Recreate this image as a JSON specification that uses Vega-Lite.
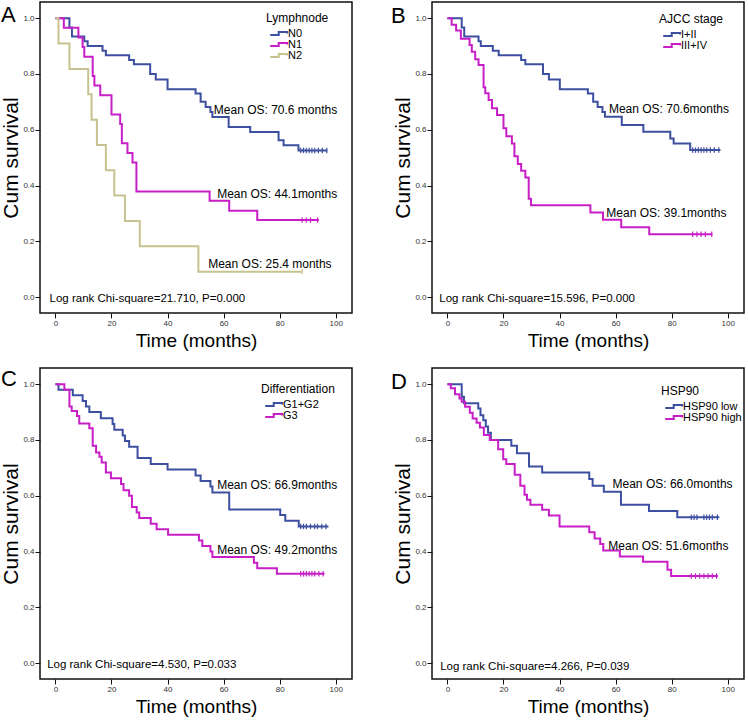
{
  "$schema": "https://vega.github.io/schema/vega-lite/v6.json",
  "autosize": {"type": "pad"},
  "padding": {"left": 0, "top": 1, "right": 0, "bottom": 0},
  "background": "white",
  "bounds": "flush",
  "columns": 2,
  "spacing": {"row": 55, "column": 80},
  "resolve": {"scale": {"color": "independent"}, "legend": {"color": "independent"}},
  "datasets": {
    "A": [
      {"g":"N0","t":0,"s":1},{"g":"N0","t":5.0,"s":0.967},{"g":"N0","t":5.9,"s":0.934},{"g":"N0","t":10.3,"s":0.917},{"g":"N0","t":11.5,"s":0.9},{"g":"N0","t":16.8,"s":0.883},{"g":"N0","t":18,"s":0.867},{"g":"N0","t":26.3,"s":0.85},{"g":"N0","t":28,"s":0.835},{"g":"N0","t":33.8,"s":0.8},{"g":"N0","t":35.8,"s":0.78},{"g":"N0","t":40,"s":0.745},{"g":"N0","t":50,"s":0.73},{"g":"N0","t":51.8,"s":0.7},{"g":"N0","t":53.6,"s":0.682},{"g":"N0","t":55.3,"s":0.664},{"g":"N0","t":56,"s":0.646},{"g":"N0","t":61.8,"s":0.61},{"g":"N0","t":69.5,"s":0.592},{"g":"N0","t":79.6,"s":0.562},{"g":"N0","t":81.4,"s":0.544},{"g":"N0","t":86.7,"s":0.526},{"g":"N0","t":97,"s":0.526},
      {"g":"N1","t":0,"s":1},{"g":"N1","t":3.0,"s":0.966},{"g":"N1","t":8.2,"s":0.931},{"g":"N1","t":9.7,"s":0.897},{"g":"N1","t":10.3,"s":0.862},{"g":"N1","t":13.3,"s":0.793},{"g":"N1","t":13.9,"s":0.759},{"g":"N1","t":16.0,"s":0.724},{"g":"N1","t":20.0,"s":0.655},{"g":"N1","t":23.1,"s":0.621},{"g":"N1","t":23.7,"s":0.552},{"g":"N1","t":25.7,"s":0.517},{"g":"N1","t":27.5,"s":0.483},{"g":"N1","t":28.9,"s":0.379},{"g":"N1","t":55,"s":0.345},{"g":"N1","t":62,"s":0.31},{"g":"N1","t":72,"s":0.276},{"g":"N1","t":94,"s":0.276},
      {"g":"N2","t":0,"s":1},{"g":"N2","t":1.1,"s":0.909},{"g":"N2","t":5.0,"s":0.818},{"g":"N2","t":11.7,"s":0.727},{"g":"N2","t":12.9,"s":0.636},{"g":"N2","t":14.8,"s":0.545},{"g":"N2","t":18.0,"s":0.455},{"g":"N2","t":21.0,"s":0.364},{"g":"N2","t":24.8,"s":0.273},{"g":"N2","t":30.1,"s":0.182},{"g":"N2","t":51.0,"s":0.091},{"g":"N2","t":88,"s":0.091}
    ],
    "Ac": [
      {"g":"N0","t":87.5,"s":0.526},{"g":"N0","t":88.5,"s":0.526},{"g":"N0","t":89.5,"s":0.526},{"g":"N0","t":90.5,"s":0.526},{"g":"N0","t":91.5,"s":0.526},{"g":"N0","t":92.5,"s":0.526},{"g":"N0","t":93.8,"s":0.526},{"g":"N0","t":95.2,"s":0.526},{"g":"N0","t":96.8,"s":0.526},
      {"g":"N1","t":88,"s":0.276},{"g":"N1","t":89.5,"s":0.276},{"g":"N1","t":91,"s":0.276},{"g":"N1","t":93.5,"s":0.276},
      {"g":"N2","t":88,"s":0.091}
    ],
    "An": [
      {"k":"os","txt":"Mean OS: 70.6 months","t":56.5,"s":0.672},
      {"k":"os","txt":"Mean OS: 44.1months","t":57.7,"s":0.37},
      {"k":"os","txt":"Mean OS: 25.4 months","t":54.5,"s":0.118},
      {"k":"lr","txt":"Log rank Chi-square=21.710, P=0.000","t":-2.1,"s":-0.006},
      {"k":"lt","txt":"A","t":-19.4,"s":0.986}
    ],
    "B": [
      {"g":"I+II","t":0,"s":1},{"g":"I+II","t":5.1,"s":0.967},{"g":"I+II","t":6.0,"s":0.934},{"g":"I+II","t":11.1,"s":0.917},{"g":"I+II","t":11.9,"s":0.9},{"g":"I+II","t":16.2,"s":0.883},{"g":"I+II","t":18.3,"s":0.867},{"g":"I+II","t":26.3,"s":0.85},{"g":"I+II","t":27.8,"s":0.835},{"g":"I+II","t":34.1,"s":0.8},{"g":"I+II","t":36.2,"s":0.78},{"g":"I+II","t":40.1,"s":0.745},{"g":"I+II","t":50.1,"s":0.73},{"g":"I+II","t":52,"s":0.7},{"g":"I+II","t":53.6,"s":0.682},{"g":"I+II","t":55.3,"s":0.664},{"g":"I+II","t":56.2,"s":0.647},{"g":"I+II","t":62.2,"s":0.617},{"g":"I+II","t":69.9,"s":0.593},{"g":"I+II","t":79.5,"s":0.569},{"g":"I+II","t":80.7,"s":0.551},{"g":"I+II","t":86.6,"s":0.527},{"g":"I+II","t":97.4,"s":0.527},
      {"g":"III+IV","t":0,"s":1},{"g":"III+IV","t":1.5,"s":0.976},{"g":"III+IV","t":3.1,"s":0.956},{"g":"III+IV","t":4.8,"s":0.926},{"g":"III+IV","t":7.9,"s":0.904},{"g":"III+IV","t":8.7,"s":0.88},{"g":"III+IV","t":9.9,"s":0.853},{"g":"III+IV","t":11.1,"s":0.832},{"g":"III+IV","t":12.9,"s":0.752},{"g":"III+IV","t":13.5,"s":0.731},{"g":"III+IV","t":14.7,"s":0.707},{"g":"III+IV","t":15.9,"s":0.677},{"g":"III+IV","t":17.7,"s":0.653},{"g":"III+IV","t":20.0,"s":0.605},{"g":"III+IV","t":21.0,"s":0.577},{"g":"III+IV","t":23.0,"s":0.551},{"g":"III+IV","t":23.9,"s":0.505},{"g":"III+IV","t":25.1,"s":0.477},{"g":"III+IV","t":26.3,"s":0.453},{"g":"III+IV","t":27.8,"s":0.429},{"g":"III+IV","t":29.0,"s":0.353},{"g":"III+IV","t":29.8,"s":0.329},{"g":"III+IV","t":51.0,"s":0.303},{"g":"III+IV","t":55.5,"s":0.277},{"g":"III+IV","t":62.0,"s":0.25},{"g":"III+IV","t":72.0,"s":0.225},{"g":"III+IV","t":94.5,"s":0.225}
    ],
    "Bc": [
      {"g":"I+II","t":87.5,"s":0.527},{"g":"I+II","t":88.5,"s":0.527},{"g":"I+II","t":89.5,"s":0.527},{"g":"I+II","t":90.5,"s":0.527},{"g":"I+II","t":91.5,"s":0.527},{"g":"I+II","t":92.5,"s":0.527},{"g":"I+II","t":93.8,"s":0.527},{"g":"I+II","t":95.2,"s":0.527},{"g":"I+II","t":96.8,"s":0.527},
      {"g":"III+IV","t":87.5,"s":0.225},{"g":"III+IV","t":89,"s":0.225},{"g":"III+IV","t":90.5,"s":0.225},{"g":"III+IV","t":92,"s":0.225},{"g":"III+IV","t":94.3,"s":0.225}
    ],
    "Bn": [
      {"k":"os","txt":"Mean OS: 70.6months","t":57.6,"s":0.673},
      {"k":"os","txt":"Mean OS: 39.1months","t":56.7,"s":0.303},
      {"k":"lr","txt":"Log rank Chi-square=15.596, P=0.000","t":-2.9,"s":-0.006},
      {"k":"lt","txt":"B","t":-20.1,"s":0.983}
    ],
    "C": [
      {"g":"G1+G2","t":0,"s":1},{"g":"G1+G2","t":1.1,"s":0.98},{"g":"G1+G2","t":6.2,"s":0.96},{"g":"G1+G2","t":9.7,"s":0.94},{"g":"G1+G2","t":10.9,"s":0.92},{"g":"G1+G2","t":12.1,"s":0.9},{"g":"G1+G2","t":16.2,"s":0.878},{"g":"G1+G2","t":20.4,"s":0.857},{"g":"G1+G2","t":21.0,"s":0.837},{"g":"G1+G2","t":24.0,"s":0.816},{"g":"G1+G2","t":24.8,"s":0.796},{"g":"G1+G2","t":26.3,"s":0.776},{"g":"G1+G2","t":29.3,"s":0.735},{"g":"G1+G2","t":34.0,"s":0.714},{"g":"G1+G2","t":40.0,"s":0.694},{"g":"G1+G2","t":50.0,"s":0.673},{"g":"G1+G2","t":51.8,"s":0.653},{"g":"G1+G2","t":55.3,"s":0.633},{"g":"G1+G2","t":56.0,"s":0.612},{"g":"G1+G2","t":62.0,"s":0.551},{"g":"G1+G2","t":80.2,"s":0.531},{"g":"G1+G2","t":82.0,"s":0.51},{"g":"G1+G2","t":86.8,"s":0.49},{"g":"G1+G2","t":97.4,"s":0.49},
      {"g":"G3","t":0,"s":1},{"g":"G3","t":3.2,"s":0.98},{"g":"G3","t":5.0,"s":0.92},{"g":"G3","t":5.8,"s":0.904},{"g":"G3","t":7.7,"s":0.886},{"g":"G3","t":8.5,"s":0.859},{"g":"G3","t":12.1,"s":0.842},{"g":"G3","t":13.3,"s":0.779},{"g":"G3","t":14.5,"s":0.755},{"g":"G3","t":15.7,"s":0.74},{"g":"G3","t":16.5,"s":0.719},{"g":"G3","t":18.0,"s":0.683},{"g":"G3","t":19.8,"s":0.663},{"g":"G3","t":23.4,"s":0.642},{"g":"G3","t":24.3,"s":0.62},{"g":"G3","t":26.3,"s":0.6},{"g":"G3","t":27.3,"s":0.56},{"g":"G3","t":29.0,"s":0.54},{"g":"G3","t":29.9,"s":0.52},{"g":"G3","t":34.0,"s":0.5},{"g":"G3","t":36.1,"s":0.48},{"g":"G3","t":40.2,"s":0.46},{"g":"G3","t":51.2,"s":0.44},{"g":"G3","t":52.4,"s":0.42},{"g":"G3","t":55.3,"s":0.4},{"g":"G3","t":56.0,"s":0.38},{"g":"G3","t":70.8,"s":0.36},{"g":"G3","t":72.0,"s":0.34},{"g":"G3","t":79.0,"s":0.32},{"g":"G3","t":96,"s":0.32}
    ],
    "Cc": [
      {"g":"G1+G2","t":87.5,"s":0.49},{"g":"G1+G2","t":88.5,"s":0.49},{"g":"G1+G2","t":89.5,"s":0.49},{"g":"G1+G2","t":91,"s":0.49},{"g":"G1+G2","t":92.5,"s":0.49},{"g":"G1+G2","t":93.5,"s":0.49},{"g":"G1+G2","t":95,"s":0.49},{"g":"G1+G2","t":96.5,"s":0.49},
      {"g":"G3","t":87.5,"s":0.32},{"g":"G3","t":88.5,"s":0.32},{"g":"G3","t":89.5,"s":0.32},{"g":"G3","t":90.5,"s":0.32},{"g":"G3","t":91.5,"s":0.32},{"g":"G3","t":92.5,"s":0.32},{"g":"G3","t":94,"s":0.32},{"g":"G3","t":95.5,"s":0.32}
    ],
    "Cn": [
      {"k":"os","txt":"Mean OS: 66.9months","t":57.7,"s":0.638},
      {"k":"os","txt":"Mean OS: 49.2months","t":57.7,"s":0.406},
      {"k":"lr","txt":"Log rank Chi-square=4.530, P=0.033","t":-2.95,"s":-0.007},
      {"k":"lt","txt":"C","t":-19.4,"s":0.993}
    ],
    "D": [
      {"g":"HSP90 low","t":0,"s":1},{"g":"HSP90 low","t":5.1,"s":0.955},{"g":"HSP90 low","t":5.9,"s":0.932},{"g":"HSP90 low","t":11.0,"s":0.913},{"g":"HSP90 low","t":11.8,"s":0.889},{"g":"HSP90 low","t":12.8,"s":0.871},{"g":"HSP90 low","t":13.7,"s":0.848},{"g":"HSP90 low","t":14.5,"s":0.826},{"g":"HSP90 low","t":15.5,"s":0.8},{"g":"HSP90 low","t":22.8,"s":0.779},{"g":"HSP90 low","t":24.8,"s":0.752},{"g":"HSP90 low","t":29.1,"s":0.705},{"g":"HSP90 low","t":33.8,"s":0.683},{"g":"HSP90 low","t":50.6,"s":0.66},{"g":"HSP90 low","t":51.8,"s":0.636},{"g":"HSP90 low","t":55.8,"s":0.614},{"g":"HSP90 low","t":61.9,"s":0.568},{"g":"HSP90 low","t":71.9,"s":0.545},{"g":"HSP90 low","t":82.0,"s":0.523},{"g":"HSP90 low","t":97,"s":0.523},
      {"g":"HSP90 high","t":0,"s":1},{"g":"HSP90 high","t":1.2,"s":0.985},{"g":"HSP90 high","t":2.7,"s":0.964},{"g":"HSP90 high","t":4.3,"s":0.949},{"g":"HSP90 high","t":5.1,"s":0.937},{"g":"HSP90 high","t":6.3,"s":0.919},{"g":"HSP90 high","t":8.0,"s":0.898},{"g":"HSP90 high","t":9.0,"s":0.877},{"g":"HSP90 high","t":10.4,"s":0.862},{"g":"HSP90 high","t":11.6,"s":0.845},{"g":"HSP90 high","t":13.0,"s":0.818},{"g":"HSP90 high","t":15.1,"s":0.8},{"g":"HSP90 high","t":18.1,"s":0.767},{"g":"HSP90 high","t":19.9,"s":0.731},{"g":"HSP90 high","t":21.0,"s":0.714},{"g":"HSP90 high","t":24.0,"s":0.675},{"g":"HSP90 high","t":26.0,"s":0.636},{"g":"HSP90 high","t":27.5,"s":0.604},{"g":"HSP90 high","t":28.4,"s":0.586},{"g":"HSP90 high","t":29.6,"s":0.568},{"g":"HSP90 high","t":33.8,"s":0.55},{"g":"HSP90 high","t":36.2,"s":0.529},{"g":"HSP90 high","t":40.0,"s":0.49},{"g":"HSP90 high","t":50.6,"s":0.469},{"g":"HSP90 high","t":52.5,"s":0.447},{"g":"HSP90 high","t":54.5,"s":0.427},{"g":"HSP90 high","t":55.6,"s":0.404},{"g":"HSP90 high","t":61.5,"s":0.382},{"g":"HSP90 high","t":69.8,"s":0.363},{"g":"HSP90 high","t":78.5,"s":0.335},{"g":"HSP90 high","t":79.8,"s":0.312},{"g":"HSP90 high","t":96.5,"s":0.312}
    ],
    "Dc": [
      {"g":"HSP90 low","t":87,"s":0.523},{"g":"HSP90 low","t":88,"s":0.523},{"g":"HSP90 low","t":89,"s":0.523},{"g":"HSP90 low","t":91.5,"s":0.523},{"g":"HSP90 low","t":92.5,"s":0.523},{"g":"HSP90 low","t":93.5,"s":0.523},{"g":"HSP90 low","t":94.5,"s":0.523},{"g":"HSP90 low","t":96.3,"s":0.523},
      {"g":"HSP90 high","t":87,"s":0.312},{"g":"HSP90 high","t":88.5,"s":0.312},{"g":"HSP90 high","t":90,"s":0.312},{"g":"HSP90 high","t":91.5,"s":0.312},{"g":"HSP90 high","t":93,"s":0.312},{"g":"HSP90 high","t":94.5,"s":0.312},{"g":"HSP90 high","t":96,"s":0.312}
    ],
    "Dn": [
      {"k":"os","txt":"Mean OS: 66.0months","t":58.9,"s":0.642},
      {"k":"os","txt":"Mean OS: 51.6months","t":57.4,"s":0.419},
      {"k":"lr","txt":"Log rank Chi-square=4.266, P=0.039","t":-2.6,"s":-0.013},
      {"k":"lt","txt":"D","t":-20.1,"s":0.983}
    ]
  },
  "concat": [
    {
      "width": 312, "height": 311,
      "layer": [
        {"data": {"name": "A"}, "mark": {"type": "line", "interpolate": "step-after", "strokeWidth": 2},
         "encoding": {
           "x": {"field": "t", "type": "quantitative", "scale": {"domain": [-5.5, 105.8], "nice": false, "zero": false}, "axis": {"values": [0,20,40,60,80,100], "title": "Time (months)"}},
           "y": {"field": "s", "type": "quantitative", "scale": {"domain": [-0.057, 1.058], "nice": false, "zero": false}, "axis": {"values": [0,0.2,0.4,0.6,0.8,1], "format": ".1f", "title": "Cum survival"}},
           "color": {"field": "g", "type": "nominal", "scale": {"domain": ["N0","N1","N2"], "range": ["#3d4fa0","#c81ec8","#c8c291"]}, "legend": {"title": "Lymphnode", "orient": "none", "legendX": 226, "legendY": 11}}
         }},
        {"data": {"name": "Ac"}, "mark": {"type": "point", "shape": "M0,-1V1", "filled": false, "size": 30, "strokeWidth": 1.2, "opacity": 1},
         "encoding": {"x": {"field": "t", "type": "quantitative"}, "y": {"field": "s", "type": "quantitative"}, "color": {"field": "g", "type": "nominal"}}},
        {"data": {"name": "An"}, "transform": [{"filter": "datum.k == 'os'"}], "mark": {"type": "text", "align": "left", "baseline": "middle", "fontSize": 12, "color": "#000"},
         "encoding": {"x": {"field": "t", "type": "quantitative"}, "y": {"field": "s", "type": "quantitative"}, "text": {"field": "txt"}}},
        {"data": {"name": "An"}, "transform": [{"filter": "datum.k == 'lr'"}], "mark": {"type": "text", "align": "left", "baseline": "middle", "fontSize": 11.5, "color": "#000"},
         "encoding": {"x": {"field": "t", "type": "quantitative"}, "y": {"field": "s", "type": "quantitative"}, "text": {"field": "txt"}}},
        {"data": {"name": "An"}, "transform": [{"filter": "datum.k == 'lt'"}], "mark": {"type": "text", "align": "left", "baseline": "alphabetic", "fontSize": 22, "color": "#000"},
         "encoding": {"x": {"field": "t", "type": "quantitative"}, "y": {"field": "s", "type": "quantitative"}, "text": {"field": "txt"}}}
      ]
    },
    {
      "width": 312, "height": 311,
      "layer": [
        {"data": {"name": "B"}, "mark": {"type": "line", "interpolate": "step-after", "strokeWidth": 2},
         "encoding": {
           "x": {"field": "t", "type": "quantitative", "scale": {"domain": [-5.5, 105.8], "nice": false, "zero": false}, "axis": {"values": [0,20,40,60,80,100], "title": "Time (months)"}},
           "y": {"field": "s", "type": "quantitative", "scale": {"domain": [-0.057, 1.058], "nice": false, "zero": false}, "axis": {"values": [0,0.2,0.4,0.6,0.8,1], "format": ".1f", "title": "Cum survival"}},
           "color": {"field": "g", "type": "nominal", "scale": {"domain": ["I+II","III+IV"], "range": ["#3d4fa0","#c81ec8"]}, "legend": {"title": "AJCC stage", "orient": "none", "legendX": 227, "legendY": 12}}
         }},
        {"data": {"name": "Bc"}, "mark": {"type": "point", "shape": "M0,-1V1", "filled": false, "size": 30, "strokeWidth": 1.2, "opacity": 1},
         "encoding": {"x": {"field": "t", "type": "quantitative"}, "y": {"field": "s", "type": "quantitative"}, "color": {"field": "g", "type": "nominal"}}},
        {"data": {"name": "Bn"}, "transform": [{"filter": "datum.k == 'os'"}], "mark": {"type": "text", "align": "left", "baseline": "middle", "fontSize": 12, "color": "#000"},
         "encoding": {"x": {"field": "t", "type": "quantitative"}, "y": {"field": "s", "type": "quantitative"}, "text": {"field": "txt"}}},
        {"data": {"name": "Bn"}, "transform": [{"filter": "datum.k == 'lr'"}], "mark": {"type": "text", "align": "left", "baseline": "middle", "fontSize": 11.5, "color": "#000"},
         "encoding": {"x": {"field": "t", "type": "quantitative"}, "y": {"field": "s", "type": "quantitative"}, "text": {"field": "txt"}}},
        {"data": {"name": "Bn"}, "transform": [{"filter": "datum.k == 'lt'"}], "mark": {"type": "text", "align": "left", "baseline": "alphabetic", "fontSize": 22, "color": "#000"},
         "encoding": {"x": {"field": "t", "type": "quantitative"}, "y": {"field": "s", "type": "quantitative"}, "text": {"field": "txt"}}}
      ]
    },
    {
      "width": 312, "height": 311,
      "layer": [
        {"data": {"name": "C"}, "mark": {"type": "line", "interpolate": "step-after", "strokeWidth": 2},
         "encoding": {
           "x": {"field": "t", "type": "quantitative", "scale": {"domain": [-5.5, 105.8], "nice": false, "zero": false}, "axis": {"values": [0,20,40,60,80,100], "title": "Time (months)"}},
           "y": {"field": "s", "type": "quantitative", "scale": {"domain": [-0.057, 1.058], "nice": false, "zero": false}, "axis": {"values": [0,0.2,0.4,0.6,0.8,1], "format": ".1f", "title": "Cum survival"}},
           "color": {"field": "g", "type": "nominal", "scale": {"domain": ["G1+G2","G3"], "range": ["#3d4fa0","#c81ec8"]}, "legend": {"title": "Differentiation", "orient": "none", "legendX": 221, "legendY": 16}}
         }},
        {"data": {"name": "Cc"}, "mark": {"type": "point", "shape": "M0,-1V1", "filled": false, "size": 30, "strokeWidth": 1.2, "opacity": 1},
         "encoding": {"x": {"field": "t", "type": "quantitative"}, "y": {"field": "s", "type": "quantitative"}, "color": {"field": "g", "type": "nominal"}}},
        {"data": {"name": "Cn"}, "transform": [{"filter": "datum.k == 'os'"}], "mark": {"type": "text", "align": "left", "baseline": "middle", "fontSize": 12, "color": "#000"},
         "encoding": {"x": {"field": "t", "type": "quantitative"}, "y": {"field": "s", "type": "quantitative"}, "text": {"field": "txt"}}},
        {"data": {"name": "Cn"}, "transform": [{"filter": "datum.k == 'lr'"}], "mark": {"type": "text", "align": "left", "baseline": "middle", "fontSize": 11.5, "color": "#000"},
         "encoding": {"x": {"field": "t", "type": "quantitative"}, "y": {"field": "s", "type": "quantitative"}, "text": {"field": "txt"}}},
        {"data": {"name": "Cn"}, "transform": [{"filter": "datum.k == 'lt'"}], "mark": {"type": "text", "align": "left", "baseline": "alphabetic", "fontSize": 22, "color": "#000"},
         "encoding": {"x": {"field": "t", "type": "quantitative"}, "y": {"field": "s", "type": "quantitative"}, "text": {"field": "txt"}}}
      ]
    },
    {
      "width": 312, "height": 311,
      "layer": [
        {"data": {"name": "D"}, "mark": {"type": "line", "interpolate": "step-after", "strokeWidth": 2},
         "encoding": {
           "x": {"field": "t", "type": "quantitative", "scale": {"domain": [-5.5, 105.8], "nice": false, "zero": false}, "axis": {"values": [0,20,40,60,80,100], "title": "Time (months)"}},
           "y": {"field": "s", "type": "quantitative", "scale": {"domain": [-0.057, 1.058], "nice": false, "zero": false}, "axis": {"values": [0,0.2,0.4,0.6,0.8,1], "format": ".1f", "title": "Cum survival"}},
           "color": {"field": "g", "type": "nominal", "scale": {"domain": ["HSP90 low","HSP90 high"], "range": ["#3d4fa0","#c81ec8"]}, "legend": {"title": "HSP90", "orient": "none", "legendX": 229, "legendY": 18}}
         }},
        {"data": {"name": "Dc"}, "mark": {"type": "point", "shape": "M0,-1V1", "filled": false, "size": 30, "strokeWidth": 1.2, "opacity": 1},
         "encoding": {"x": {"field": "t", "type": "quantitative"}, "y": {"field": "s", "type": "quantitative"}, "color": {"field": "g", "type": "nominal"}}},
        {"data": {"name": "Dn"}, "transform": [{"filter": "datum.k == 'os'"}], "mark": {"type": "text", "align": "left", "baseline": "middle", "fontSize": 12, "color": "#000"},
         "encoding": {"x": {"field": "t", "type": "quantitative"}, "y": {"field": "s", "type": "quantitative"}, "text": {"field": "txt"}}},
        {"data": {"name": "Dn"}, "transform": [{"filter": "datum.k == 'lr'"}], "mark": {"type": "text", "align": "left", "baseline": "middle", "fontSize": 11.5, "color": "#000"},
         "encoding": {"x": {"field": "t", "type": "quantitative"}, "y": {"field": "s", "type": "quantitative"}, "text": {"field": "txt"}}},
        {"data": {"name": "Dn"}, "transform": [{"filter": "datum.k == 'lt'"}], "mark": {"type": "text", "align": "left", "baseline": "alphabetic", "fontSize": 22, "color": "#000"},
         "encoding": {"x": {"field": "t", "type": "quantitative"}, "y": {"field": "s", "type": "quantitative"}, "text": {"field": "txt"}}}
      ]
    }
  ],
  "config": {
    "font": "Liberation Sans",
    "view": {"stroke": "#111", "strokeWidth": 1.5},
    "axis": {"domain": false, "grid": false, "tickColor": "#111", "tickSize": 5, "tickWidth": 1, "labelFontSize": 8, "labelColor": "#333", "labelPadding": 1, "titleColor": "#000", "titleFontWeight": "normal", "labelFont": "Liberation Sans", "titleFont": "Liberation Sans"},
    "axisX": {"titleFontSize": 19, "titlePadding": 4},
    "axisY": {"titleFontSize": 21, "titlePadding": 1},
    "legend": {"symbolType": "M-0.3,0.35H1.7V-0.35H3.7V0", "symbolSize": 72, "symbolStrokeWidth": 2, "symbolFillColor": "transparent", "labelFontSize": 11, "titleFontSize": 12, "titleFontWeight": "normal", "titleColor": "#000", "labelColor": "#000", "rowPadding": -3, "titlePadding": 3, "labelOffset": 11, "padding": 0, "titleFont": "Liberation Sans", "labelFont": "Liberation Sans"}
  }
}
